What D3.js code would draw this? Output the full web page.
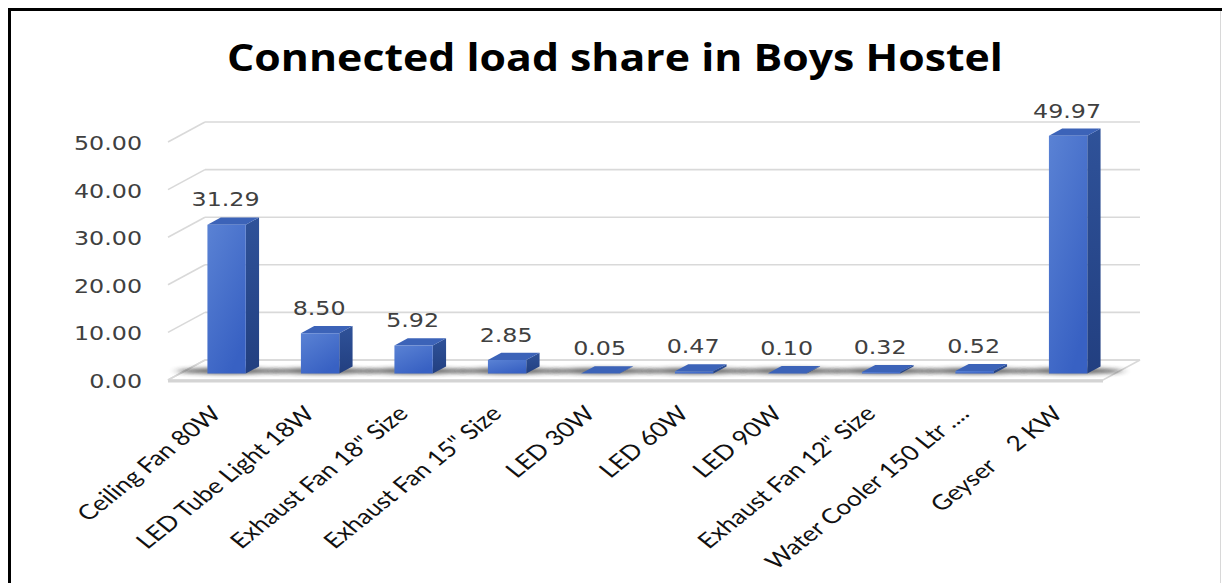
<!DOCTYPE html>
<html>
<head>
<meta charset="utf-8">
<script src="https://cdn.jsdelivr.net/npm/d3@7"></script>
<style>
html,body{margin:0;padding:0;background:#fff;}
svg{display:block;}
</style>
</head>
<body>
<svg id="chart" width="1222" height="583"></svg>
<script>
const title = "Connected load share in Boys Hostel";
const categories = ["Ceiling Fan 80W", "LED Tube Light 18W", "Exhaust Fan 18\" Size", "Exhaust Fan 15\" Size",
  "LED 30W", "LED 60W", "LED 90W", "Exhaust Fan 12\" Size", "Water Cooler 150 Ltr ....", "Geyser    2 KW"];
const values = [31.29, 8.50, 5.92, 2.85, 0.05, 0.47, 0.10, 0.32, 0.52, 49.97];
const yTicks = [0, 10, 20, 30, 40, 50];

const svg = d3.select("#chart");
const W = 1222, H = 583;
const SX = 1.25; // horizontal stretch of text

// 3D geometry
const DX = -37, DY = 20;           // full depth offset (back -> front)
const dFront = 0.68, dBack = 0.32; // bar depth span
const x = d3.scaleBand().domain(categories).range([205, 1140]).paddingInner(0.59).paddingOuter(0.295);
const y = d3.scaleLinear().domain([0, 50]).range([360, 122]);
const P = (px, v, d) => [px + DX * d, y(v) + DY * d];

const defs = svg.append("defs");
const gFront = defs.append("linearGradient").attr("id", "gFront").attr("x1", 0).attr("y1", 0).attr("x2", 0.6).attr("y2", 1);
gFront.append("stop").attr("offset", 0).attr("stop-color", "#5a82d4");
gFront.append("stop").attr("offset", 1).attr("stop-color", "#3861c3");
const gSide = defs.append("linearGradient").attr("id", "gSide").attr("x1", 0).attr("y1", 0).attr("x2", 0).attr("y2", 1);
gSide.append("stop").attr("offset", 0).attr("stop-color", "#2f5299");
gSide.append("stop").attr("offset", 1).attr("stop-color", "#223f80");
const blur = defs.append("filter").attr("id", "blur").attr("x", "-50%").attr("y", "-200%").attr("width", "200%").attr("height", "500%");
blur.append("feGaussianBlur").attr("stdDeviation", "5 2");

// white background
svg.append("rect").attr("width", W).attr("height", H).attr("fill", "#fff");

// frame
svg.append("line").attr("x1", 8).attr("y1", 9.5).attr("x2", W).attr("y2", 9.5).attr("stroke", "#000").attr("stroke-width", 3);
svg.append("line").attr("x1", 9.5).attr("y1", 8).attr("x2", 9.5).attr("y2", H).attr("stroke", "#000").attr("stroke-width", 3);
svg.append("line").attr("x1", 1220.5).attr("y1", 11).attr("x2", 1220.5).attr("y2", H).attr("stroke", "#d8d8d8").attr("stroke-width", 1);

// title
const tt = svg.append("text")
  .attr("x", 615).attr("y", 71)
  .attr("text-anchor", "middle")
  .attr("font-family", "'Open Sans', sans-serif")
  .attr("font-weight", 700)
  .attr("font-size", 38)
  .attr("fill", "#000")
  .text(title);
{
  const len = tt.node().getComputedTextLength();
  const s = 776 / len;
  tt.attr("x", 0).attr("y", 0).attr("transform", `translate(615,71) scale(${s},1)`);
}

// floor
const [x0r, x1r] = x.range();
const floorPts = [P(x0r, 0, 0), P(x1r, 0, 0), P(x1r, 0, 1), P(x0r, 0, 1)];
svg.append("polygon").attr("points", floorPts.map(p => p.join(",")).join(" "))
  .attr("fill", "#fff").attr("stroke", "#d9d9d9").attr("stroke-width", 1.5);

// gridlines (back wall + left side wall)
const grid = svg.append("g");
grid.selectAll("line.back").data(yTicks).join("line").attr("class", "back")
  .attr("x1", x0r).attr("x2", x1r).attr("y1", d => y(d)).attr("y2", d => y(d))
  .attr("stroke", "#d9d9d9").attr("stroke-width", 1.6);
grid.selectAll("line.side").data(yTicks).join("line").attr("class", "side")
  .attr("x1", d => P(x0r, d, 1)[0]).attr("y1", d => P(x0r, d, 1)[1])
  .attr("x2", d => P(x0r, d, 0)[0]).attr("y2", d => P(x0r, d, 0)[1])
  .attr("stroke", "#d9d9d9").attr("stroke-width", 1.6);
// front floor edge
svg.append("line")
  .attr("x1", P(x0r, 0, 1)[0]).attr("y1", P(x0r, 0, 1)[1] + 1)
  .attr("x2", P(x1r, 0, 1)[0]).attr("y2", P(x1r, 0, 1)[1] + 1)
  .attr("stroke", "#d4d4d4").attr("stroke-width", 3);

// y tick labels
svg.append("g").selectAll("text").data(yTicks).join("text")
  .attr("transform", d => `translate(${P(x0r, d, 1)[0] - 26},${P(x0r, d, 1)[1] + 8}) scale(${SX},1)`)
  .attr("text-anchor", "end")
  .attr("font-family", "'DejaVu Sans', sans-serif")
  .attr("font-size", 19)
  .attr("fill", "#404040")
  .text(d => d3.format(".2f")(d));

// shadows
const data = categories.map((c, i) => ({ c, v: values[i] }));
svg.append("g").selectAll("ellipse").data(data).join("ellipse")
  .attr("cx", d => P(x(d.c) + x.bandwidth() / 2, 0, 0.5)[0] - 4)
  .attr("cy", d => P(x(d.c), 0, 0.5)[1] + 1)
  .attr("rx", 52).attr("ry", 3)
  .attr("fill", "#2a2a2a").attr("opacity", 0.75)
  .attr("filter", "url(#blur)");

// bars
const bars = svg.append("g").selectAll("g").data(data).join("g");
const poly = pts => pts.map(p => p.join(",")).join(" ");
bars.append("polygon") // side
  .attr("points", d => { const a = x(d.c), b = a + x.bandwidth();
    return poly([P(b, 0, dFront), P(b, d.v, dFront), P(b, d.v, dBack), P(b, 0, dBack)]); })
  .attr("fill", "url(#gSide)");
bars.append("polygon") // top
  .attr("points", d => { const a = x(d.c), b = a + x.bandwidth();
    return poly([P(a, d.v, dFront), P(b, d.v, dFront), P(b, d.v, dBack), P(a, d.v, dBack)]); })
  .attr("fill", "#3c63b8");
bars.append("polygon") // front
  .attr("points", d => { const a = x(d.c), b = a + x.bandwidth();
    return poly([P(a, d.v, dFront), P(b, d.v, dFront), P(b, 0, dFront), P(a, 0, dFront)]); })
  .attr("fill", "url(#gFront)");

// value labels
svg.append("g").selectAll("text").data(data).join("text")
  .attr("transform", d => { const p = P(x(d.c) + x.bandwidth() / 2, d.v, dFront);
    return `translate(${p[0] - 1},${y(d.v) + DY * dBack - 11}) scale(${SX},1)`; })
  .attr("text-anchor", "middle")
  .attr("font-family", "'DejaVu Sans', sans-serif")
  .attr("font-size", 19)
  .attr("fill", "#404040")
  .text(d => d3.format(".2f")(d.v));

// category labels
svg.append("g").selectAll("text").data(data).join("text")
  .attr("transform", d => { const p = P(x(d.c) + x.bandwidth() / 2, 0, dFront);
    return `translate(${p[0] - 4},415) scale(${SX},1) rotate(-45)`; })
  .attr("text-anchor", "end")
  .attr("font-family", "Lato, 'Open Sans', sans-serif")
  .attr("font-size", 21)
  .attr("fill", "#111")
  .style("white-space", "pre")
  .text(d => d.c);
</script>
</body>
</html>
